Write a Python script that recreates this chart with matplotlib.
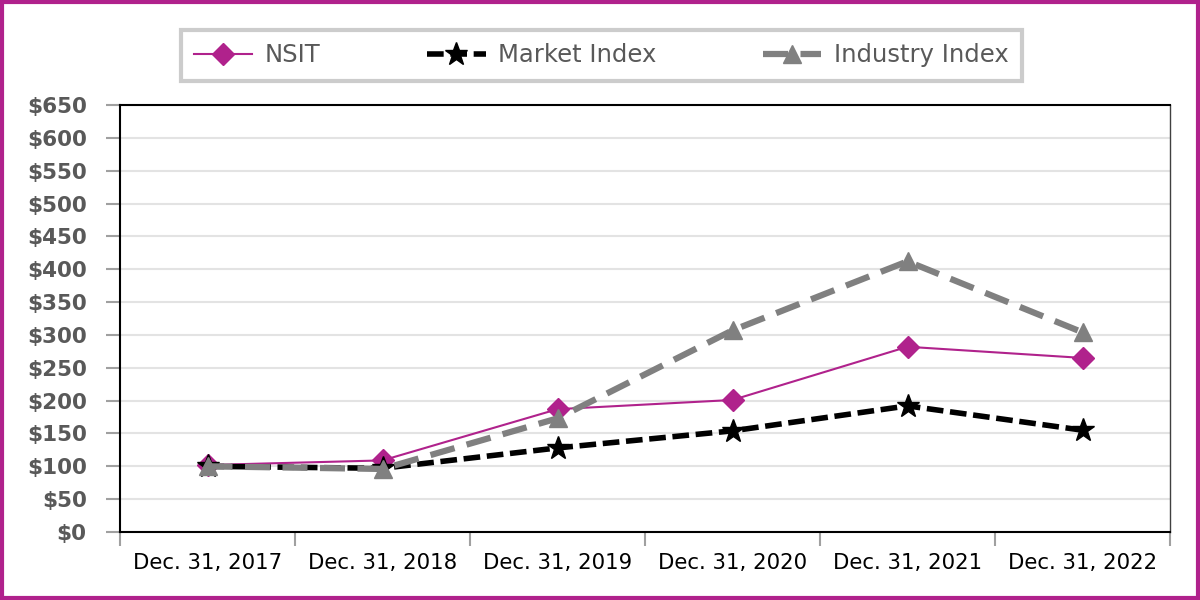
import matplotlib
matplotlib.use("Agg")
import matplotlib.pyplot as plt
from matplotlib.patches import Rectangle
from matplotlib.ticker import FixedLocator

categories = ["Dec. 31, 2017", "Dec. 31, 2018", "Dec. 31, 2019",
              "Dec. 31, 2020", "Dec. 31, 2021", "Dec. 31, 2022"]
nsit = [102, 109, 187, 201, 282, 265]
market = [100, 97, 128, 154, 192, 155]
industry = [100, 96, 173, 307, 412, 304]
yticks = list(range(0, 651, 50))
ytick_labels = [f"${v}" for v in yticks]

plt.rcParams['font.family'] = ['DejaVu Sans']

fig = plt.figure(figsize=(12, 6), dpi=100)
ax = fig.add_axes([0.1, 0.1133, 0.875, 0.7117])

x = list(range(len(categories)))
ax.plot(x, nsit, color="#B0228C", lw=1.5, marker="D", ms=11, label="NSIT", zorder=3)
ax.plot(x, market, color="black", lw=4, ls=(0, (3, 1.2)), marker="*", ms=17,
        label="Market Index", zorder=4)
ax.plot(x, industry, color="#808080", lw=4.5, ls=(0, (4, 2)), marker="^", ms=13,
        label="Industry Index", zorder=5)

ax.set_xlim(-0.5, len(categories) - 0.5)
ax.set_ylim(0, 650)
ax.set_yticks(yticks)
ax.set_yticklabels(ytick_labels, fontsize=15.5, fontweight="bold", color="#595959")
ax.set_xticks(x)
ax.set_xticklabels(categories, fontsize=15.3, color="black")
ax.xaxis.set_minor_locator(FixedLocator([i - 0.5 for i in range(len(categories) + 1)]))
ax.tick_params(axis="x", which="major", length=0, pad=15)
ax.tick_params(axis="x", which="minor", length=10, width=1.5, color="#A0A0A0")
ax.tick_params(axis="y", length=10, width=1.5, color="#A0A0A0", pad=14)

ax.grid(axis="y", color="#E3E3E3", lw=1.5, zorder=0)
ax.set_axisbelow(True)
for s in ["left", "bottom", "top"]:
    ax.spines[s].set_color("black")
    ax.spines[s].set_linewidth(1.5)
ax.spines["right"].set_color("#404040")
ax.spines["right"].set_linewidth(1)

leg = fig.legend(loc="center", bbox_to_anchor=(0.501, 0.908), ncol=3, fontsize=17.5,
                 frameon=True, fancybox=False, edgecolor="#C0C0C0",
                 columnspacing=4.4, handlelength=2.4, handletextpad=0.5,
                 borderpad=0.55, borderaxespad=0, labelcolor="#595959")
leg.get_frame().set_linewidth(3)

fig.patches.append(Rectangle((0.002, 0.003), 0.996, 0.994, transform=fig.transFigure,
                             fill=False, edgecolor="#B0228C", lw=3))

fig.savefig("out.png", dpi=100)
